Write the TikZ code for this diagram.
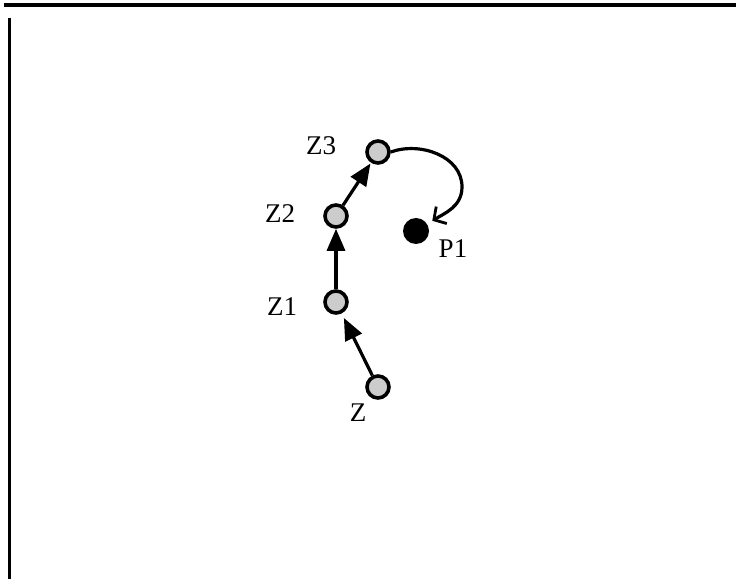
\documentclass[tikz,border=0pt]{standalone}
\usepackage{fontspec}
\setmainfont{Liberation Serif}
\usetikzlibrary{arrows.meta}
\begin{document}
\begin{tikzpicture}[x=1pt,y=1pt,
  zpt/.style={circle,draw,line width=3.6pt,fill=gray!40,minimum size=22pt,inner sep=0pt},
  ppt/.style={circle,fill=black,minimum size=26pt,inner sep=0pt},
  lbl/.style={font=\fontsize{27}{29}\selectfont,inner sep=0pt},
  arr/.style={line width=3.2pt,-{Triangle[length=22pt,width=18pt]}},
  carr/.style={line width=3.2pt,-{Straight Barb[length=9pt,width=20pt,line width=2.8pt]}}]
\useasboundingbox (0,0) rectangle (736,579);
% frame lines
\coordinate (tl) at (4,574);
\coordinate (tr) at (736,574);
\coordinate (lt) at (9.5,561);
\coordinate (lb) at (9.5,0);
\draw[line width=3.5pt] (tl) -- (tr);
\draw[line width=2.2pt] (lt) -- (lb);
% points
\node[zpt] (z3) at (378,427) {};
\node[zpt] (z2) at (336,363) {};
\node[zpt] (z1) at (336,277) {};
\node[zpt] (z)  at (378,192) {};
\node[ppt] (p1) at (416,348) {};
% labels
\node[lbl] (lz3) at (321,433) {Z3};
\node[lbl] (lz2) at (280,365) {Z2};
\node[lbl] (lz1) at (282,272) {Z1};
\node[lbl] (lz)  at (358,166) {Z};
\node[lbl] (lp1) at (453,330) {P1};
% arrows
\draw[arr,shorten >=5pt] (z) -- (z1);
\draw[arr,shorten >=0pt] (z1) -- (z2);
\draw[arr,shorten >=1pt] (z2) -- (z3);
\coordinate (cr) at (462,392);
\draw[carr,shorten >=6pt] (z3.east) to[out=20,in=90] (cr) to[out=-90,in=32] (p1);
\end{tikzpicture}
\end{document}
